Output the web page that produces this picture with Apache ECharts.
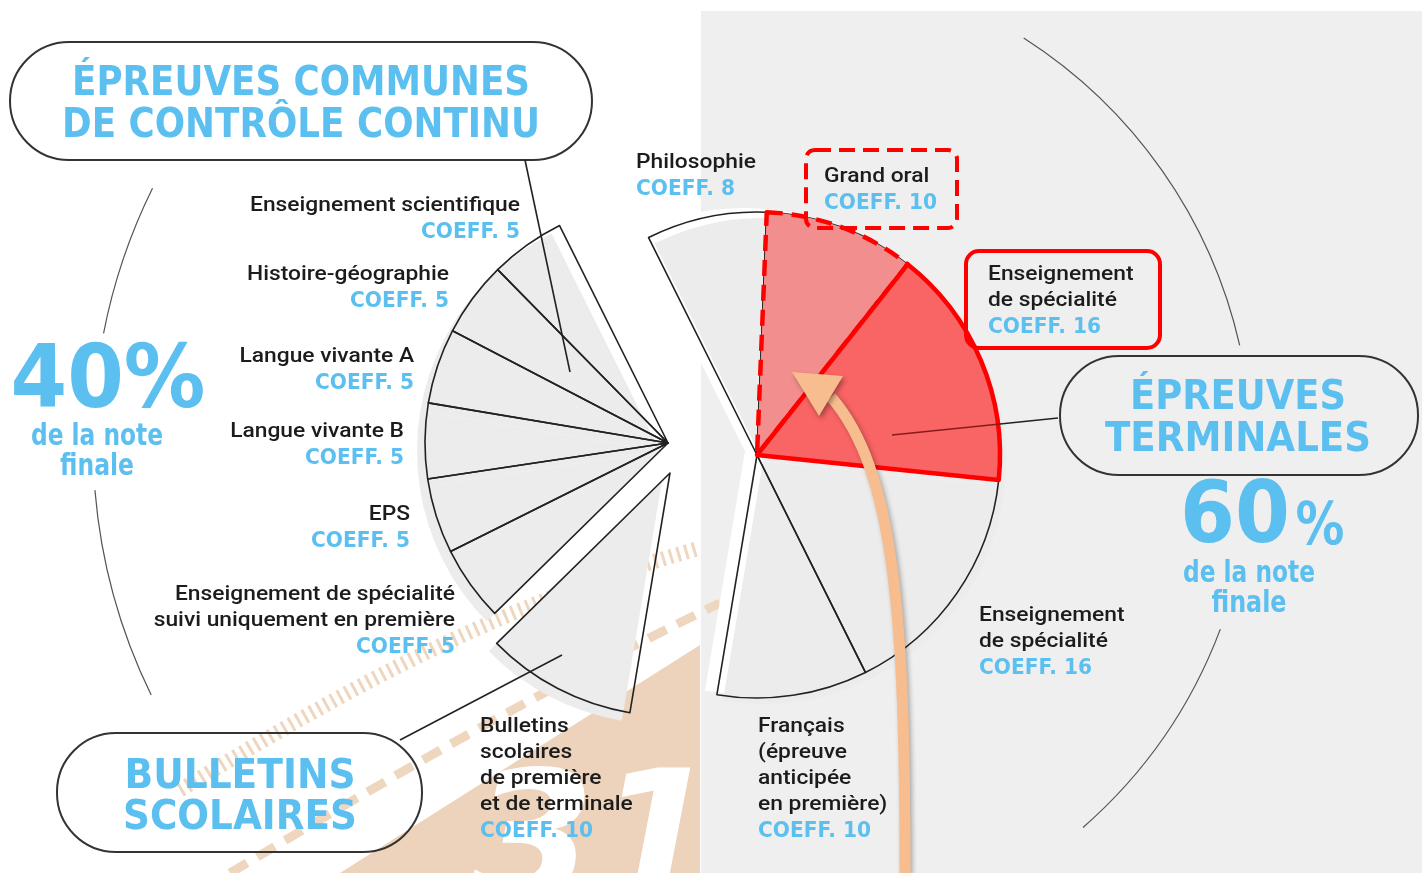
<!DOCTYPE html>
<html><head><meta charset="utf-8">
<script src="https://cdn.jsdelivr.net/npm/echarts@6/dist/echarts.min.js"></script>
<style>html,body{margin:0;padding:0;background:#fff}#c{width:1422px;height:873px}</style>
</head><body><div id="c"></div><script>
// ---------- DATA ----------
const leftSubjects = ['Enseignement scientifique','Histoire-géographie','Langue vivante A','Langue vivante B','EPS','Enseignement de spécialité\nsuivi uniquement en première'];
const leftCoeffs = [5,5,5,5,5,5];
const bulletinSubjects = ['Bulletins\nscolaires\nde première\net de terminale'];
const bulletinCoeffs = [10];
const rightSubjects = ['Philosophie','Grand oral','Enseignement\nde spécialité','Enseignement\nde spécialité','Français\n(épreuve\nanticipée\nen première)'];
const rightCoeffs = [8,10,16,16,10];
const groupTitles = ['ÉPREUVES COMMUNES\nDE CONTRÔLE CONTINU','BULLETINS\nSCOLAIRES','ÉPREUVES\nTERMINALES'];
const shareLabels = ['40%','60%'];
const shareSub = ['de la note\nfinale','de la note\nfinale'];

// ---------- LAYOUT ----------
const sum = a => a.reduce((s,v)=>s+v,0);
const TOTAL = sum(leftCoeffs)+sum(bulletinCoeffs)+sum(rightCoeffs);
const UNIT = 360/TOTAL;
const ANCHOR = 116.5;            // boundary angle between the two halves (deg)
const R = 243;
const C_LEFT = [668,443], C_BUL = [670,473], C_RIGHT = [757,455];
const BLUE = '#5bbff0', INK = '#1c1c1c';

const ctx = document.createElement('canvas').getContext('2d');
function measure(t, font){ ctx.font = font; return ctx.measureText(t).width; }

function pie(values, names, center, startAngle, clockwise, styleFn, z){
  const data = values.map((v,i)=>({value:v, name:names[i], itemStyle:styleFn(i)}));
  data.push({value: TOTAL-sum(values), name:'_rest', itemStyle:{color:'rgba(0,0,0,0)', borderWidth:0}});
  return {type:'pie', center, radius:R, startAngle, clockwise, data, z,
    label:{show:false}, labelLine:{show:false}, silent:true, animation:false,
    emphasis:{disabled:true}, avoidLabelOverlap:false, minAngle:0};
}
const off = (c,dx,dy)=>[c[0]+dx,c[1]+dy];
const grayFill = ()=>({color:'#ececec', borderWidth:0});
const whiteFill = ()=>({color:'#ffffff', borderWidth:0});
const outline = ()=>({color:'rgba(0,0,0,0)', borderColor:'#222', borderWidth:1.6});
const HL = {1:{color:'#f38e8e', borderColor:'#ff0000', borderWidth:4.5, borderType:[16,9]},
            2:{color:'#f96464', borderColor:'#ff0000', borderWidth:4.5}};
const hlStyle = i => HL[i] || {color:'rgba(0,0,0,0)', borderWidth:0};

const bulStart = ANCHOR + UNIT*sum(leftCoeffs);
const series = [
  pie(leftCoeffs, leftSubjects, off(C_LEFT,-8,8), ANCHOR, false, grayFill, 1),
  pie(bulletinCoeffs, bulletinSubjects, off(C_BUL,-8,8), bulStart, false, grayFill, 1),
  pie(leftCoeffs, leftSubjects, C_LEFT, ANCHOR, false, outline, 3),
  pie(bulletinCoeffs, bulletinSubjects, C_BUL, bulStart, false, outline, 3),
  pie(rightCoeffs, rightSubjects, off(C_RIGHT,-12,-4), ANCHOR, true, whiteFill, 1),
  pie(rightCoeffs, rightSubjects, off(C_RIGHT,6,6), ANCHOR, true, grayFill, 2),
  pie(rightCoeffs, rightSubjects, C_RIGHT, ANCHOR, true, outline, 3),
  pie(rightCoeffs, rightSubjects, C_RIGHT, ANCHOR, true, hlStyle, 4)
];

// ---------- GRAPHICS ----------
const G = [];
const LF = '500 21px Roboto';
function T(text, x, y, o){
  o = o||{};
  const font = o.font || LF;
  let sx = o.sx || 1;
  if (o.fit) sx = o.fit / measure(text, font);
  G.push({type:'text', x, y, z:o.z||12, scaleX:sx, silent:true,
    style:Object.assign({text, x:0, y:0, font, fill:o.fill||INK, textAlign:o.align||'left', textVerticalAlign:'middle'}, o.extra||{})});
}
const rad = d => d*Math.PI/180;
const labelScale = 270 / measure('Enseignement scientifique', LF);

// background panel
G.push({type:'rect', z:0, shape:{x:701,y:11,width:721,height:862}, style:{fill:'#efefef'}, silent:true});
// watermark
G.push({type:'polygon', z:0, shape:{points:[[340,873],[700,645],[700,873]]}, style:{fill:'#edd3bb'}, silent:true});
G.push({type:'bezierCurve', z:0, shape:{x1:180,y1:790,cpx1:330,cpy1:700,cpx2:480,cpy2:610,x2:700,y2:548}, style:{stroke:'#efd6bf', lineWidth:15, lineDash:[3,5], fill:null}, silent:true});
G.push({type:'bezierCurve', z:0, shape:{x1:230,y1:873,cpx1:370,cpy1:790,cpx2:520,cpy2:700,x2:720,y2:603}, style:{stroke:'#efd6bf', lineWidth:9, lineDash:[20,12], fill:null}, silent:true});
G.push({type:'text', z:0, x:595, y:762, silent:true, style:{text:'31', x:0, y:0, font:'italic 900 180px "DejaVu Sans"', fill:'#ffffff', textAlign:'center', textVerticalAlign:'top', shadowBlur:6, shadowColor:'rgba(0,0,0,0.45)', shadowOffsetX:3, shadowOffsetY:2}});

// thin guide arcs
const arc = (c,r,a1,a2)=>G.push({type:'arc', z:0.5, silent:true, shape:{cx:c[0],cy:c[1],r,startAngle:rad(a1),endAngle:rad(a2),clockwise:true}, style:{stroke:'#555', lineWidth:1.2, fill:null}});
arc(C_LEFT,575,-169,-153.7);
arc(C_LEFT,575,-206,-184.7);
arc(C_RIGHT,495,-57.4,-12.8);
arc(C_RIGHT,495,20.6,48.8);

// group boxes
const box = (x,y,w,h,r,stroke,lw,dash)=>G.push({type:'rect', z:11, silent:true, shape:{x,y,width:w,height:h,r}, style:{fill:null, stroke, lineWidth:lw, lineDash:dash||null}});
box(10,42,582,118,59,'#333',2);
box(57,733,365,119,59,'#333',2);
box(1060,356,358,119,59,'#333',2);
box(806,150,151,78,9,'#ff0000',4,[16,8]);
box(966,251,194,97,13,'#ff0000',4);

// leader lines
const line = (x1,y1,x2,y2,c,lw)=>G.push({type:'line', z:11, silent:true, shape:{x1,y1,x2,y2}, style:{stroke:c||'#222', lineWidth:lw||1.6}});
line(525,160,570,372);
line(400,740,562,655);
line(1058,418,1000,424);
line(1000,424,892,435,'#8b1a1a');

// arrow
G.push({type:'bezierCurve', z:13, silent:true, shape:{x1:905,y1:873,cpx1:905,cpy1:620,cpx2:895,cpy2:470,x2:831,y2:397}, style:{stroke:'#f7bd8e', lineWidth:11, fill:null, shadowBlur:5, shadowColor:'rgba(0,0,0,0.3)', shadowOffsetX:2, shadowOffsetY:2}});
G.push({type:'polygon', z:14, silent:true, shape:{points:[[792,372],[843,376],[819,416]]}, style:{fill:'#f7bd8e', shadowBlur:5, shadowColor:'rgba(0,0,0,0.35)', shadowOffsetX:2, shadowOffsetY:3}});

// group titles
const HF = 'bold 41px "DejaVu Sans"';
const t0 = groupTitles[0].split('\n'), t1 = groupTitles[1].split('\n'), t2 = groupTitles[2].split('\n');
T(t0[0],301,84,{font:HF,fill:BLUE,align:'center',fit:458});
T(t0[1],301,126,{font:HF,fill:BLUE,align:'center',fit:478});
T(t1[0],240,777,{font:HF,fill:BLUE,align:'center',fit:231});
T(t1[1],240,818,{font:HF,fill:BLUE,align:'center',fit:234});
T(t2[0],1238,398,{font:HF,fill:BLUE,align:'center',fit:216});
T(t2[1],1238,440,{font:HF,fill:BLUE,align:'center',fit:266});

// shares
T(shareLabels[0],108,384,{font:'bold 88px "DejaVu Sans"',fill:BLUE,align:'center',fit:195});
const s0 = shareSub[0].split('\n'), s1 = shareSub[1].split('\n');
T(s0[0],97,437,{font:'bold 30px "DejaVu Sans"',fill:BLUE,align:'center',fit:132});
T(s0[1],97,467,{font:'bold 30px "DejaVu Sans"',fill:BLUE,align:'center',fit:74});
const pct = shareLabels[1];
T(pct.slice(0,-1),1235,520,{font:'bold 85px "DejaVu Sans"',fill:BLUE,align:'center',fit:110});
T(pct.slice(-1),1320,529,{font:'bold 58px "DejaVu Sans"',fill:BLUE,align:'center',fit:49});
T(s1[0],1249,574,{font:'bold 30px "DejaVu Sans"',fill:BLUE,align:'center',fit:132});
T(s1[1],1249,604,{font:'bold 30px "DejaVu Sans"',fill:BLUE,align:'center',fit:75});

// slice labels
const CF = 'bold 22px "DejaVu Sans"';
const coeffScale = 99 / measure('COEFF. 5', CF);
function label(name, coeff, x, y, align){
  const lines = name.split('\n');
  lines.forEach((l,i)=>T(l, x, y+i*26, {align, sx:labelScale}));
  T('COEFF. '+coeff, x, y+lines.length*26, {font:CF, fill:BLUE, align, sx:coeffScale});
}
const leftPos = [[520,206],[449,275],[414,357],[404,432],[410,515],[455,595]];
leftSubjects.forEach((n,i)=>label(n,leftCoeffs[i],leftPos[i][0],leftPos[i][1],'right'));
label(bulletinSubjects[0], bulletinCoeffs[0], 480, 727, 'left');
const rightPos = [[636,163],[824,177],[988,275],[979,616],[758,727]];
rightSubjects.forEach((n,i)=>label(n,rightCoeffs[i],rightPos[i][0],rightPos[i][1],'left'));

const chart = echarts.init(document.getElementById('c'));
chart.setOption({animation:false, backgroundColor:'#ffffff', series, graphic:{elements:G}});
</script></body></html>
